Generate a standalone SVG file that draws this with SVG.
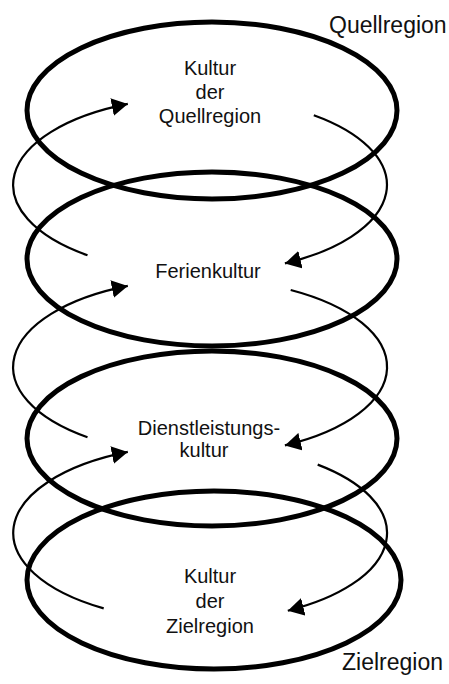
<svg xmlns="http://www.w3.org/2000/svg" width="449" height="684" viewBox="0 0 449 684">
<style>
.ring{fill:none;stroke:#000;stroke-width:5}
.flow{fill:none;stroke:#000;stroke-width:2.2;marker-end:url(#ah)}
text{font-family:"Liberation Sans",Arial,Helvetica,sans-serif;fill:#111}
.in{font-size:20px;text-anchor:middle}
.out{font-size:23px}
</style>
<defs>
<marker id="ah" markerUnits="userSpaceOnUse" markerWidth="17" markerHeight="18" refX="16" refY="9" orient="auto">
<path d="M0,0 L16,9 L0,18 z" fill="#000"/>
</marker>
</defs>
<rect width="449" height="684" fill="#fff"/>
<g id="connectors">
<path class="flow" d="M313.8,115.2 A187,88 0 0 1 284.9,263.4"/>
<path class="flow" d="M87.5,255.3 A187,88 0 0 1 127.8,103.9"/>
<path class="flow" d="M290.7,290 A187,88 0 0 1 284.9,445.4"/>
<path class="flow" d="M87.5,437.3 A187,88 0 0 1 127.8,285.9"/>
<path class="flow" d="M317.7,464.6 A187,88 0 0 1 287.8,610.7"/>
<path class="flow" d="M103.7,608.4 A187,88 0 0 1 127.8,451.9"/>
</g>
<g id="quellregion">
<ellipse class="ring" cx="212" cy="110.5" rx="185" ry="88.5"/>
<text class="in" x="210" y="75">Kultur</text>
<text class="in" x="210" y="99">der</text>
<text class="in" x="210" y="123">Quellregion</text>
</g>
<g id="ferienkultur">
<ellipse class="ring" cx="212" cy="259" rx="185" ry="87"/>
<text class="in" x="208" y="278">Ferienkultur</text>
</g>
<g id="dienstleistungskultur">
<ellipse class="ring" cx="212" cy="438.5" rx="185" ry="87.5"/>
<text class="in" x="209" y="435">Dienstleistungs-</text>
<text class="in" x="204" y="457">kultur</text>
</g>
<g id="zielregion">
<ellipse class="ring" cx="214" cy="580" rx="187" ry="89"/>
<text class="in" x="210" y="583">Kultur</text>
<text class="in" x="210" y="608">der</text>
<text class="in" x="210" y="633">Zielregion</text>
</g>
<g id="labels">
<text class="out" x="329" y="33">Quellregion</text>
<text class="out" x="342" y="670">Zielregion</text>
</g>
</svg>
